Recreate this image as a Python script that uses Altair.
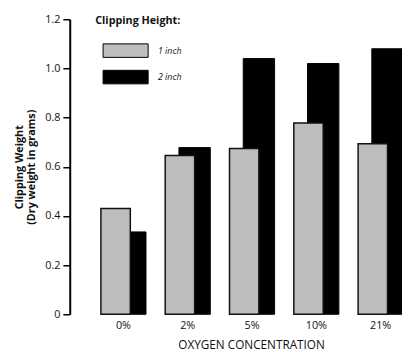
import altair as alt
import pandas as pd

categories = ["0%", "2%", "5%", "10%", "21%"]
one_inch = [0.43, 0.646, 0.674, 0.778, 0.694]
two_inch = [0.335, 0.678, 1.04, 1.02, 1.08]
series = ["1 inch", "2 inch"]
y_ticks = [0, 0.2, 0.4, 0.6, 0.8, 1.0, 1.2]

rows = []
for c, v in zip(categories, one_inch):
    rows.append({"conc": c, "series": "1 inch", "weight": v})
for c, v in zip(categories, two_inch):
    rows.append({"conc": c, "series": "2 inch", "weight": v})
df = pd.DataFrame(rows)

FONT = "Open Sans"

x_enc = alt.X(
    "conc:N",
    sort=categories,
    scale=alt.Scale(range=[22, 350], paddingInner=0, paddingOuter=0),
    axis=alt.Axis(
        title="OXYGEN CONCENTRATION",
        labelAngle=0,
        domain=False,
        ticks=False,
        labelPadding=6,
        labelFontSize=11,
        labelColor="#111",
        labelFont=FONT,
        titleFont=FONT,
        titleFontSize=12,
        titleFontWeight="normal",
        titleColor="#111",
        titleX=185,
        titleY=26,
    ),
)
y_enc = alt.Y(
    "weight:Q",
    scale=alt.Scale(domain=[0, 1.2], nice=False, zero=True),
    axis=alt.Axis(
        title=["Clipping Weight", "(Dry weight in grams)"],
        values=y_ticks,
        labelExpr="datum.value == 0 ? '0' : format(datum.value, '.1f')",
        grid=False,
        domainColor="#000",
        domainWidth=2,
        tickColor="#000",
        tickWidth=1.5,
        tickSize=7,
        labelPadding=3,
        labelFontSize=11,
        labelFont=FONT,
        labelColor="#111",
        titleFont=FONT,
        titleFontSize=11,
        titleFontWeight="bold",
        titleColor="#111",
        titleX=-46,
        titleLineHeight=12,
    ),
)
color_enc = alt.Color(
    "series:N",
    scale=alt.Scale(domain=series, range=["#bdbdbd", "#000000"]),
    legend=alt.Legend(
        title="Clipping Height:",
        orient="none",
        legendX=26,
        legendY=-4,
        titleFont=FONT,
        titleFontSize=11,
        titleFontWeight="bold",
        titleColor="#111",
        titlePadding=13,
        labelFont=FONT,
        labelFontSize=9,
        labelFontStyle="italic",
        labelColor="#111",
        symbolType="M-2,-0.6H2V0.6H-2Z",
        symbolSize=529,
        symbolStrokeColor="#000",
        symbolStrokeWidth=1,
        symbolOpacity=1,
        symbolOffset=19,
        labelOffset=21,
        rowPadding=6,
        offset=8,
    ),
)

base = alt.Chart(df)
two = base.transform_filter(alt.datum.series == "2 inch").mark_bar(
    width=32, xOffset=7, stroke="#000", strokeWidth=1
).encode(x=x_enc, y=y_enc, fill=color_enc)
one = base.transform_filter(alt.datum.series == "1 inch").mark_bar(
    width=30, xOffset=-8, stroke="#111", strokeWidth=1.5
).encode(x=x_enc, y=y_enc, fill=color_enc)

chart = (
    alt.layer(two, one)
    .properties(
        width=339,
        height=301,
        autosize=alt.AutoSizeParams(type="none"),
        padding={"left": 63, "top": 8, "right": 0, "bottom": 35},
        background="white",
    )
    .configure_view(stroke=None)
)

chart.save("out.html", embed_options={"renderer": "svg", "actions": False})
